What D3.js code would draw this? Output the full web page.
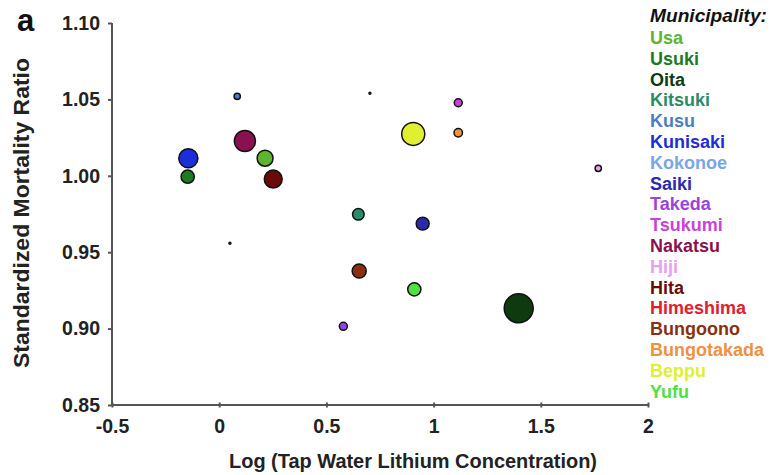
<!DOCTYPE html>
<html>
<head>
<meta charset="utf-8">
<script src="https://cdn.jsdelivr.net/npm/d3@7"></script>
<style>
  body { margin: 0; background: #fff; }
  svg text { font-family: "Liberation Sans", Arial, sans-serif; font-weight: bold; }
</style>
</head>
<body>
<div id="chart"></div>
<script>
// Municipalities in legend order
const names = ["Usa", "Usuki", "Oita", "Kitsuki", "Kusu", "Kunisaki", "Kokonoe", "Saiki", "Takeda",
  "Tsukumi", "Nakatsu", "Hiji", "Hita", "Himeshima", "Bungoono", "Bungotakada", "Beppu", "Yufu"];
const colors = ["#5db52d", "#1f7a1f", "#0f3a0f", "#2a8a6a", "#4a7ec0", "#1c2ed8", "#7aa6e8", "#2a2ab0", "#9a44e0",
  "#c844d8", "#8a1050", "#e8a0f0", "#6a0a0a", "#e02030", "#8a3010", "#f09040", "#e0f030", "#50e040"];
// log lithium concentration, SMR, and relative bubble weight
const logLi = [0.214, -0.147, 1.397, 0.649, 0.084, -0.144, 0.703, 0.949, 0.579,
  1.115, 0.120, 1.768, 0.252, 0.050, 0.653, 1.115, 0.905, 0.910];
const smr = [1.0115, 0.9994, 0.9133, 0.9748, 1.052, 1.0115, 1.054, 0.9687, 0.9015,
  1.0478, 1.0228, 1.0049, 0.9979, 0.9558, 0.9377, 1.0282, 1.0274, 0.9257];
const weight = [64, 44, 212, 34, 10, 92, 1, 42, 16,
  16, 112, 10, 81, 1, 50, 18, 134, 44];

const xTicks = [-0.5, 0, 0.5, 1, 1.5, 2];
const yTicks = [0.85, 0.90, 0.95, 1.00, 1.05, 1.10];

const W = 772, H = 475;
const svg = d3.select("#chart").append("svg")
  .attr("width", W).attr("height", H);

const x = d3.scaleLinear().domain([-0.5, 2]).range([112, 648]);
const y = d3.scaleLinear().domain([0.85, 1.10]).range([405, 23]);
const r = d3.scaleSqrt().domain([0, 212]).range([0, 14.5]);

// axes
const xAxis = svg.append("g")
  .attr("transform", `translate(0,${y(0.85)})`)
  .call(d3.axisBottom(x).tickValues(xTicks)
    .tickFormat(d => d < 0 ? "-" + Math.abs(d) : String(d))
    .tickSize(3));
xAxis.selectAll(".tick line").attr("y1", -2.5).attr("y2", 2.5);

const yAxis = svg.append("g")
  .attr("transform", `translate(${x(-0.5)},0)`)
  .call(d3.axisLeft(y).tickValues(yTicks).tickFormat(d3.format(".2f")).tickSize(4));

[xAxis, yAxis].forEach(g => {
  g.select(".domain").attr("stroke", "#555").attr("stroke-width", 2);
  g.selectAll(".tick line").attr("stroke", "#555").attr("stroke-width", 2);
  g.selectAll(".tick text").attr("fill", "#222").style("font-size", "19.5px");
});
xAxis.select(".domain").attr("d", `M${x(-0.5)},0H${x(2)}`);
yAxis.select(".domain").attr("d", `M0,${y(1.10)}V${y(0.85)}`);
xAxis.selectAll(".tick text").attr("y", 0).attr("dy", "1.45em");
yAxis.selectAll(".tick text").attr("x", -12);

// axis titles
svg.append("text")
  .attr("x", 413).attr("y", 468)
  .attr("text-anchor", "middle")
  .attr("fill", "#222")
  .attr("textLength", 368)
  .attr("lengthAdjust", "spacingAndGlyphs")
  .style("font-size", "21px")
  .text("Log (Tap Water Lithium Concentration)");

svg.append("text")
  .attr("transform", "rotate(-90)")
  .attr("x", -213).attr("y", 29)
  .attr("text-anchor", "middle")
  .attr("fill", "#222")
  .attr("textLength", 310)
  .attr("lengthAdjust", "spacingAndGlyphs")
  .style("font-size", "22px")
  .text("Standardized Mortality Ratio");

// panel label
svg.append("text")
  .attr("x", 17).attr("y", 31)
  .attr("fill", "#111")
  .style("font-size", "31px")
  .text("a");

// bubbles, biggest first so small ones stay on top
const pts = names.map((n, i) => ({ name: n, x: logLi[i], y: smr[i], w: weight[i], c: colors[i] }))
  .sort((a, b) => b.w - a.w);

svg.selectAll(".dot")
  .data(pts)
  .enter()
  .append("circle")
  .attr("class", "dot")
  .attr("cx", d => x(d.x))
  .attr("cy", d => y(d.y))
  .attr("r", d => r(d.w))
  .attr("fill", d => d.c)
  .attr("stroke", "#111")
  .attr("stroke-width", 1.5);

// legend
const legend = svg.append("g").attr("transform", "translate(650,0)");
legend.append("text")
  .attr("x", 0).attr("y", 22)
  .attr("fill", "#111")
  .attr("textLength", 117)
  .attr("lengthAdjust", "spacingAndGlyphs")
  .style("font-size", "18px")
  .style("font-style", "italic")
  .text("Municipality:");

legend.selectAll(".leg")
  .data(names)
  .enter()
  .append("text")
  .attr("class", "leg")
  .attr("x", 0)
  .attr("y", (d, i) => 44 + i * 20.8)
  .attr("fill", (d, i) => colors[i])
  .style("font-size", "18px")
  .text(d => d);
</script>
</body>
</html>
